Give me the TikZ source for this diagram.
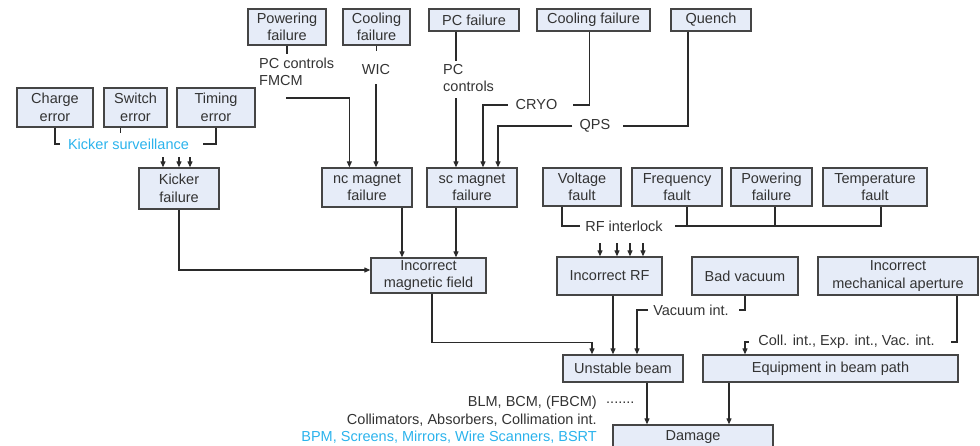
\documentclass[tikz,border=0pt]{standalone}
\usepackage{fontspec}
\setmainfont{Liberation Sans}
\usetikzlibrary{arrows.meta}
\definecolor{boxfill}{HTML}{E6ECF8}
\definecolor{boxline}{HTML}{454545}
\definecolor{txt}{HTML}{333333}
\definecolor{lin}{HTML}{2A2A2A}
\definecolor{sky}{HTML}{2BB3EC}
\newcommand{\fs}{\fontsize{14.5}{17.5}\selectfont}
\tikzset{
  box/.style={draw=boxline, fill=boxfill, line width=1.3pt, inner sep=0pt, align=center, text=txt, font=\fs},
  lbl/.style={inner sep=0pt, text=txt, font=\fs},
  conn/.style={draw=lin, line width=1.1pt},
  arr/.style={conn, -{Triangle[length=6pt,width=5pt]}},
}
\begin{document}
\begin{tikzpicture}[x=1pt,y=-1pt]
\useasboundingbox (0,0) rectangle (980,445);
% boxes
\node[box, minimum width=76pt, minimum height=39pt] (charge) at (55,107.5) {Charge\\error};
\node[box, minimum width=63pt, minimum height=39pt] (switch) at (135.5,107.5) {Switch\\error};
\node[box, minimum width=78pt, minimum height=39pt] (timing) at (216,107.5) {Timing\\error};
\node[box, minimum width=80pt, minimum height=41pt] (kicker) at (179,188.5) {Kicker\\failure};
\node[box, minimum width=78pt, minimum height=36pt] (pow1) at (287,27) {Powering\\failure};
\node[box, minimum width=67pt, minimum height=36pt] (cool1) at (376.5,27) {Cooling\\failure};
\node[box, minimum width=90pt, minimum height=39pt] (ncmag) at (367,187.5) {nc magnet\\failure};
\node[box, minimum width=90pt, minimum height=22pt] (pcf) at (474,20) {PC failure};
\node[box, minimum width=113pt, minimum height=22pt] (cool2) at (593.5,20) {Cooling failure};
\node[box, minimum width=80pt, minimum height=22pt] (quench) at (711,20) {Quench};
\node[box, minimum width=90pt, minimum height=39pt] (scmag) at (472,187.5) {sc magnet\\failure};
\node[box, minimum width=78pt, minimum height=38pt] (volt) at (582,187) {Voltage\\fault};
\node[box, minimum width=90pt, minimum height=38pt] (freq) at (677,187) {Frequency\\fault};
\node[box, minimum width=81pt, minimum height=38pt] (pow2) at (771.5,187) {Powering\\failure};
\node[box, minimum width=104pt, minimum height=38pt] (temp) at (875,187) {Temperature\\fault};
\node[box, minimum width=115pt, minimum height=35pt] (incmag) at (428.5,275.5) {Incorrect\\magnetic field};
\node[box, minimum width=105pt, minimum height=38pt] (incrf) at (609.5,276) {Incorrect RF};
\node[box, minimum width=106pt, minimum height=38pt] (badvac) at (745,276) {Bad vacuum};
\node[box, minimum width=160pt, minimum height=38pt] (incmech) at (898,276) {Incorrect\\mechanical aperture};
\node[box, minimum width=120pt, minimum height=27pt] (unstable) at (623,368.5) {Unstable beam};
\node[box, minimum width=255pt, minimum height=27pt] (equip) at (830.5,368.5) {Equipment in beam path};
\node[box, minimum width=160pt, minimum height=24pt] (damage) at (693,437) {Damage};
% labels
\node[lbl, text=sky] (ks) at (128.5,144) {Kicker surveillance};
\node[lbl, align=left, anchor=west] (pcfm) at (259,72) {PC controls\\FMCM};
\node[lbl] (wic) at (376,70) {WIC};
\node[lbl, align=left, anchor=west] (pcc) at (443,78) {PC\\controls};
\node[lbl] (cryo) at (536.5,105) {CRYO};
\node[lbl] (qps) at (595,126) {QPS};
\node[lbl] (rfi) at (624,226) {RF interlock};
\node[lbl] (vint) at (691,310) {Vacuum int.};
\node[lbl] (coll) at (846.5,342) {Coll. int., Exp. int., Vac. int.};
\node[lbl, anchor=east] (blm) at (597,403) {BLM, BCM, (FBCM)};
\node[lbl, anchor=west] (dots) at (606,403) {.......};
\node[lbl, anchor=east] (colab) at (597,420) {Collimators, Absorbers, Collimation int.};
\node[lbl, anchor=east, text=sky] (bpm) at (597,437) {BPM, Screens, Mirrors, Wire Scanners, BSRT};
% kicker
\draw[conn] (charge.south) |- ([xshift=-8pt]ks.west);
\draw[conn] (timing.south) |- ([xshift=14pt]ks.east);
\draw[conn] ([xshift=-15pt]switch.south) -- ++(0,5);
\foreach \dx in {-16,0,11}
  \draw[arr] ([xshift=\dx pt,yshift=10pt]kicker.north) -- ([xshift=\dx pt]kicker.north);
% nc magnet
\draw[conn] (pow1.south) -- ++(0,8);
\coordinate (pa) at (286,98);
\draw[arr] (pa) -| ([xshift=28pt]ncmag.north west);
\draw[conn] (cool1.south) -- ++(0,5);
\coordinate (wa) at (376,84);
\draw[arr] (wa) -- (wa |- ncmag.north);
% sc magnet
\draw[conn] ([xshift=-18pt]pcf.south) -- ++(0,29);
\coordinate (pb) at (456,98);
\draw[arr] (pb) -- (pb |- scmag.north);
\draw[conn] ([xshift=-4pt]cool2.south) |- ([xshift=15.5pt]cryo.east);
\draw[arr] ([xshift=-7.5pt]cryo.west) -| ([xshift=11pt]scmag.north);
\draw[conn] ([xshift=-23pt]quench.south) |- ([xshift=12pt]qps.east);
\draw[arr] ([xshift=-7pt]qps.west) -| ([xshift=26pt]scmag.north);
% RF
\draw[conn] ([xshift=-20pt]volt.south) |- ([xshift=-5pt]rfi.west);
\coordinate (rf1) at ([xshift=12pt]rfi.east);
\draw[conn] (rf1) -| ([xshift=6pt]temp.south);
\draw[conn] ([xshift=10pt]freq.south) -- ([xshift=10pt]freq.south |- rf1);
\draw[conn] ([xshift=3.5pt]pow2.south) -- ([xshift=3.5pt]pow2.south |- rf1);
\foreach \dx in {-9.5,7.5,20.5,33.5}
  \draw[arr] ([xshift=\dx pt,yshift=13pt]incrf.north) -- ([xshift=\dx pt]incrf.north);
% magnetic field
\draw[arr] ([xshift=35pt]ncmag.south) -- ([xshift=-26.5pt]incmag.north);
\draw[arr] ([xshift=-16pt]scmag.south) -- ([xshift=27.5pt]incmag.north);
\draw[arr] (kicker.south) |- ([yshift=5.5pt]incmag.west);
% unstable beam
\draw[arr] ([xshift=3.5pt]incmag.south) -- ++(0,49) -| ([xshift=-31pt]unstable.north);
\draw[arr] ([xshift=3.5pt]incrf.south) -- ([xshift=-10pt]unstable.north);
\draw[conn] (badvac.south) |- ([xshift=10.5pt]vint.east);
\draw[arr] ([xshift=-5pt]vint.west) -| ([xshift=14pt]unstable.north);
% equipment
\draw[conn] ([xshift=59pt]incmech.south) |- ([xshift=16pt]coll.east);
\draw[arr] ([xshift=-9pt]coll.west) -| ([xshift=-85.5pt]equip.north);
% damage
\draw[arr] ([xshift=24pt]unstable.south) -- ([xshift=-46pt]damage.north);
\draw[arr] ([xshift=-101.5pt]equip.south) -- ([xshift=36pt]damage.north);
\end{tikzpicture}
\end{document}
